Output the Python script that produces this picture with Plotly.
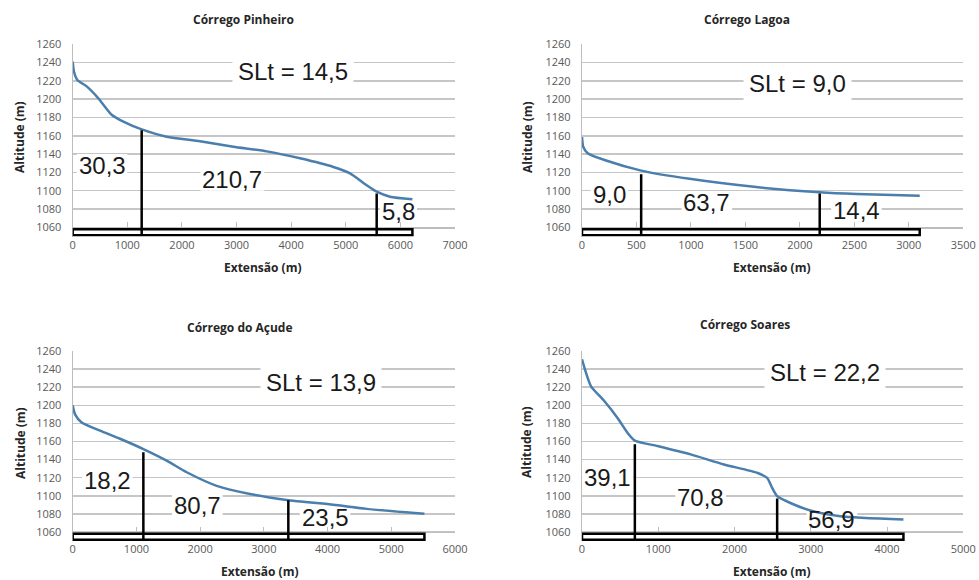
import plotly.graph_objects as go

# ---------------- data ----------------
titles = ["Córrego Pinheiro", "Córrego Lagoa", "Córrego do Açude", "Córrego Soares"]

pinheiro_x = [0, 24, 85, 256, 470, 714, 928, 1263, 1721, 2331, 2942, 3552, 4162, 4773, 5078, 5383, 5566, 5810, 6220]
pinheiro_y = [1241, 1230, 1221, 1214, 1201, 1183, 1175.5, 1167, 1159, 1154, 1148, 1143, 1135.4, 1126, 1119, 1106, 1099, 1093.5, 1090.6]

lagoa_x = [0, 12, 52, 221, 543, 987, 1600, 2182, 2519, 3100]
lagoa_y = [1158.6, 1147.7, 1141, 1133, 1122, 1113, 1104, 1098.3, 1096.4, 1094.6]

acude_x = [0, 37, 141, 429, 743, 1109, 1475, 1789, 2260, 2783, 3358, 4091, 4614, 5520]
acude_y = [1200, 1190, 1181, 1172, 1163, 1151.6, 1138.8, 1126, 1111, 1102, 1095.4, 1090, 1085.5, 1080]

soares_x = [0, 52, 118, 292, 466, 597, 693, 990, 1425, 1861, 2297, 2428, 2493, 2559, 2733, 2995, 3387, 4215]
soares_y = [1250.8, 1236, 1221, 1204.7, 1186, 1169.6, 1161, 1155, 1145.7, 1134.6, 1125.4, 1119.8, 1108.8, 1099.5, 1092, 1083.7, 1077.4, 1073.7]

series_x = [pinheiro_x, lagoa_x, acude_x, soares_x]
series_y = [pinheiro_y, lagoa_y, acude_y, soares_y]

# division points (knickpoints) and top of marker lines
div_x = [[1263, 5566], [543, 2182], [1109, 3384], [693, 2559]]
div_top = [[1166, 1097], [1118, 1097], [1148, 1095], [1157, 1097]]

slt_text = ["SLt = 14,5", "SLt = 9,0", "SLt = 13,9", "SLt = 22,2"]
slt_pos = [(4040, 1230), (1974, 1217), (3892, 1225), (3191, 1236)]

seg_labels = [["30,3", "210,7", "5,8"], ["9,0", "63,7", "14,4"], ["18,2", "80,7", "23,5"], ["39,1", "70,8", "56,9"]]
seg_pos = [[(537, 1128), (2923, 1112), (5963, 1077)],
           [(251, 1096), (1146, 1087), (2519, 1078)],
           [(544, 1117), (1956, 1089), (3960, 1076)],
           [(336, 1120), (1556, 1098), (3278, 1074)]]

x_max = [7000, 3500, 6000, 5000]
x_dtick = [1000, 500, 1000, 1000]
y_ticks = list(range(1060, 1261, 20))

# ---------------- layout geometry ----------------
W, H = 979, 580


def px_x(p):
    return p / W


def px_y(p):
    return 1 - p / H


col_px = [(72.7, 455), (582, 963.3)]
row_px = [(44.3, 236.5), (351, 541)]
Y_RANGE = [1050, 1260]

title_px = [(243, 20), (747, 20), (240, 327), (745, 324)]
ytitle_px = [(20, 137), (528, 137), (20, 443), (526, 442)]
xtitle_px = [(263, 267), (772, 267), (260, 571), (772, 571)]

LINE_COLOR = "#4a7eac"
GRID = "#c6c6c6"
TICKFONT = dict(family="Open Sans", size=11, color="#595959")
LABFONT = dict(family="Open Sans", size=12, color="#262626")
BIGFONT = dict(family="Liberation Sans", size=24, color="#1a1a1a")

fig = go.Figure()
layout = dict(width=W, height=H, margin=dict(l=0, r=0, t=0, b=0, autoexpand=False),
              template="none",
              paper_bgcolor="white", plot_bgcolor="white", showlegend=False)
shapes = []
annotations = []

for i in range(4):
    r, c = divmod(i, 2)
    sx = "" if i == 0 else str(i + 1)
    xa, ya = "x" + sx, "y" + sx
    (cx0, cx1), (ry0, ry1) = col_px[c], row_px[r]
    xd = [px_x(cx0), px_x(cx1)]
    yd = [px_y(ry1), px_y(ry0)]
    # data units per pixel
    ux = x_max[i] / (cx1 - cx0)
    uy = (Y_RANGE[1] - Y_RANGE[0]) / (ry1 - ry0)
    # x axis drawn at altitude 1060
    pos = yd[0] + (1060 - Y_RANGE[0]) / (Y_RANGE[1] - Y_RANGE[0]) * (yd[1] - yd[0])

    fig.add_trace(go.Scatter(x=series_x[i], y=series_y[i], mode="lines",
                             line=dict(color=LINE_COLOR, width=2.5, shape="spline", smoothing=0.6),
                             xaxis=xa, yaxis=ya, hoverinfo="skip"))

    layout["xaxis" + sx] = dict(domain=xd, range=[0, x_max[i]], dtick=x_dtick[i], tick0=0,
                                anchor="free", position=pos, showgrid=False, zeroline=False,
                                showline=True, linecolor="#bdbdbd", linewidth=1.2,
                                ticks="inside", ticklen=5, tickcolor="#bdbdbd", automargin=False,
                                tickfont=TICKFONT, ticklabelstandoff=7, fixedrange=True)
    layout["yaxis" + sx] = dict(domain=yd, range=Y_RANGE, tickvals=y_ticks, anchor=xa,
                                showgrid=True, gridcolor=GRID, gridwidth=1.5, zeroline=False,
                                showline=True, linecolor="#bdbdbd", linewidth=1.2, automargin=False,
                                ticks="", tickfont=TICKFONT, ticklabelstandoff=8, fixedrange=True)

    # baseline box along stream length
    L = series_x[i][-1]
    shapes.append(dict(type="rect", xref=xa, yref=ya, x0=0, x1=L, y0=1051.5, y1=1058,
                       line=dict(color="black", width=2.5), fillcolor="white", layer="above"))
    for dx, dt in zip(div_x[i], div_top[i]):
        shapes.append(dict(type="line", xref=xa, yref=ya, x0=dx, x1=dx, y0=1051.5, y1=dt,
                           line=dict(color="black", width=2.5), layer="above"))

    annotations.append(dict(text=slt_text[i], x=slt_pos[i][0], y=slt_pos[i][1], xref=xa, yref=ya,
                            showarrow=False, bgcolor="white", borderpad=5, font=BIGFONT))
    for lab, (lx, ly) in zip(seg_labels[i], seg_pos[i]):
        # white backing (hides gridlines, stays under the profile line)
        wpx = sum(6.7 if ch == "," else 13.3 for ch in lab) + 4
        hpx = 22
        shapes.append(dict(type="rect", xref=xa, yref=ya, layer="between",
                           x0=lx - wpx / 2 * ux, x1=lx + wpx / 2 * ux,
                           y0=ly - hpx / 2 * uy, y1=ly + hpx / 2 * uy,
                           line=dict(width=0), fillcolor="white"))
        annotations.append(dict(text=lab, x=lx, y=ly, xref=xa, yref=ya, showarrow=False, font=BIGFONT))

    tx, ty = title_px[i]
    annotations.append(dict(text="<b>" + titles[i] + "</b>", x=px_x(tx), y=px_y(ty), xref="paper", yref="paper",
                            xanchor="center", yanchor="middle", showarrow=False, font=LABFONT))
    tx, ty = ytitle_px[i]
    annotations.append(dict(text="<b>Altitude (m)</b>", x=px_x(tx), y=px_y(ty), xref="paper", yref="paper",
                            xanchor="center", yanchor="middle", showarrow=False, textangle=-90, font=LABFONT))
    tx, ty = xtitle_px[i]
    annotations.append(dict(text="<b>Extensão (m)</b>", x=px_x(tx), y=px_y(ty), xref="paper", yref="paper",
                            xanchor="center", yanchor="middle", showarrow=False, font=LABFONT))

layout["shapes"] = shapes
layout["annotations"] = annotations
fig.update_layout(**layout)
fig.write_html("out.html", config={"displayModeBar": False, "staticPlot": True},
               post_script="document.body.style.margin='0';document.body.style.overflow='hidden';")
